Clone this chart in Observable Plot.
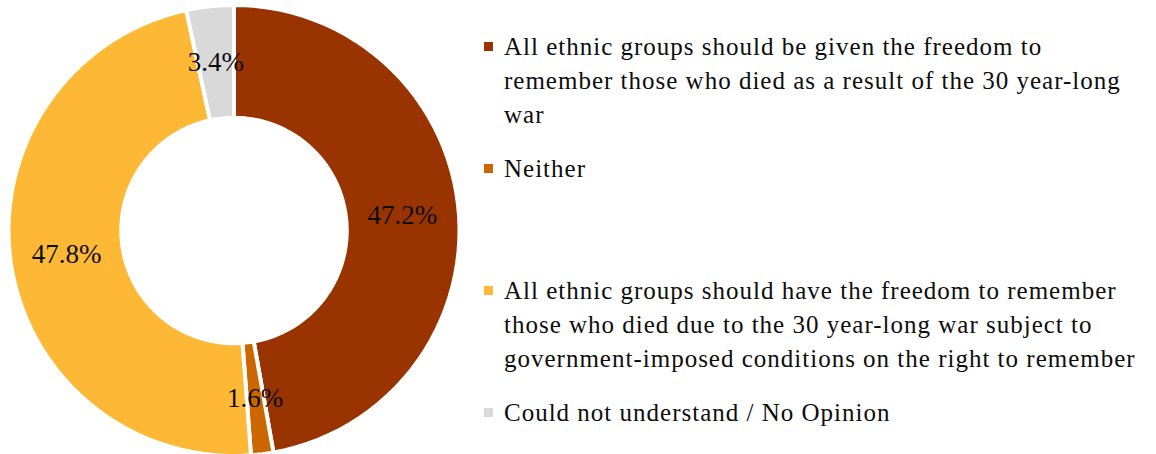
<!DOCTYPE html>
<html>
<head>
<meta charset="utf-8">
<script src="https://cdn.jsdelivr.net/npm/d3@7"></script>
<script src="https://cdn.jsdelivr.net/npm/@observablehq/plot@0.6"></script>
<style>
  html, body { margin: 0; padding: 0; background: #fff; }
  #wrap { position: relative; width: 1156px; height: 454px; overflow: hidden; font-family: "Liberation Serif", "Times New Roman", serif; color: #0d0d0d; }
  #chart { position: absolute; left: 0; top: 0; }
  .item { position: absolute; left: 484px; display: flex; align-items: flex-start; }
  .swatch { width: 9px; height: 9px; margin-top: 12px; margin-right: 11px; flex: none; }
  .txt { font-family: "Liberation Serif", serif; font-size: 25px; letter-spacing: 1px; line-height: 34px; white-space: nowrap; }
</style>
</head>
<body>
<div id="wrap"><div id="chart"></div><div id="legend"></div></div>
<script>
// ---- data ----
const categories = [
  "All ethnic groups should be given the freedom to remember those who died as a result of the 30 year-long war",
  "Neither",
  "All ethnic groups should have the freedom to remember those who died due to the 30 year-long war subject to government-imposed conditions on the right to remember",
  "Could not understand / No Opinion"
];
const values = [47.2, 1.6, 47.8, 3.4];
const valueLabels = ["47.2%", "1.6%", "47.8%", "3.4%"];
const colors = ["#993300", "#CC6600", "#FDB935", "#D9D9D9"];
const legendLines = [
  ["All ethnic groups should be given the freedom to", "remember those who died as a result of the 30 year-long", "war"],
  ["Neither"],
  ["All ethnic groups should have the freedom to remember", "those who died due to the 30 year-long war subject to", "government-imposed conditions on the right to remember"],
  ["Could not understand / No Opinion"]
];

// ---- geometry derived from values ----
const innerRatio = 0.5;
const pie = d3.pie().sort(null).value(d => d.value);
const arcs = pie(categories.map((c, i) => ({category: c, value: values[i], label: valueLabels[i]})));
const steps = 120;
const ring = [];
arcs.forEach(a => {
  const n = Math.max(2, Math.ceil(steps * (a.endAngle - a.startAngle) / (2 * Math.PI)) + 1);
  for (let k = 0; k < n; k++) {
    const t = a.startAngle + (a.endAngle - a.startAngle) * k / (n - 1);
    ring.push({category: a.data.category, x: Math.sin(t), y: Math.cos(t)});
  }
  for (let k = n - 1; k >= 0; k--) {
    const t = a.startAngle + (a.endAngle - a.startAngle) * k / (n - 1);
    ring.push({category: a.data.category, x: innerRatio * Math.sin(t), y: innerRatio * Math.cos(t)});
  }
});
const mid = (1 + innerRatio) / 2;
const labelData = arcs.map(a => {
  const t = (a.startAngle + a.endAngle) / 2;
  return {label: a.data.label, x: mid * Math.sin(t), y: mid * Math.cos(t)};
});

const chart = Plot.plot({
  width: 470,
  height: 454,
  margin: 0,
  x: {domain: [-1, 1], range: [8, 459], axis: null},
  y: {domain: [-1, 1], range: [455.5, 4.5], axis: null},
  color: {domain: categories, range: colors},
  style: {background: "transparent", overflow: "visible"},
  marks: [
    Plot.line(ring, {x: "x", y: "y", z: "category", fill: "category", stroke: "white", strokeWidth: 4, curve: "linear-closed", strokeLinejoin: "miter"}),
    Plot.text(labelData, {x: "x", y: "y", text: "label", fontSize: 27, fill: "#0d0d0d", fontFamily: "Liberation Serif", letterSpacing: "0.5px"})
  ]
});
document.getElementById("chart").appendChild(chart);

// ---- legend ----
const legend = document.getElementById("legend");
legendLines.forEach((lines, i) => {
  const item = document.createElement("div");
  item.className = "item";
  item.style.top = (30 + i * 122) + "px";
  const sw = document.createElement("div");
  sw.className = "swatch";
  sw.style.background = colors[i];
  const tx = document.createElement("div");
  tx.className = "txt";
  tx.innerHTML = lines.join("<br>");
  item.appendChild(sw);
  item.appendChild(tx);
  legend.appendChild(item);
});
</script>
</body>
</html>
